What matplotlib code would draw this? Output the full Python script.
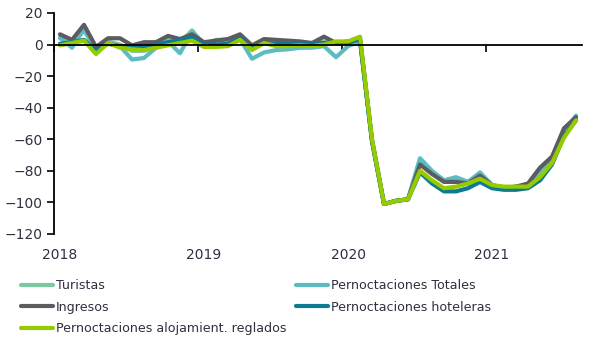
import numpy as np
import matplotlib.pyplot as plt
from matplotlib.lines import Line2D
import matplotlib.transforms as mtransforms

plt.rcParams['font.family'] = ['DejaVu Sans']

TXT = '#2e3040'

# monthly index, Jan 2018 .. Aug 2021
years = ['2018', '2019', '2020', '2021']

turistas = [4, 0, 9, -3, 2, 0, -4, -4, -1, 3, 1, 9,
            0, 3, 3, 6, -2, 2, 1, 0.5, 0.5, 0, 2, 1,
            1, 3, -61, -101, -99, -98, -73, -81, -86, -85, -87, -82,
            -89, -91, -90, -89, -80, -72, -56, -46]
totales = [4.5, -2, 10, -4, 1, -1, -9.5, -8.5, -2, 2, -5.5, 8,
           0, 0, 0, 3.5, -9, -5, -3.5, -3, -2, -2, -1, -8,
           -1, 2, -60, -101, -99, -98, -72, -80, -86, -84, -87, -81,
           -89, -91, -90, -89, -80, -73, -55, -45]
ingresos = [6.5, 3, 12.5, -1.5, 4, 4, -0.5, 1.5, 1.5, 5.5, 3.5, 6.5,
            1.5, 2.5, 3.5, 6.5, -0.5, 3.5, 3, 2.5, 2, 1, 5, 1,
            1, 4, -61, -101, -99, -98, -76, -82, -87, -87, -88, -83,
            -89, -91, -90, -88, -78, -71, -53, -46]
hoteleras = [0.5, 1.5, 3, -4, 0.5, -1, -1.5, -1.5, 0, 1.5, 3, 4.5,
             0, 0, 0.5, 4, -2.5, 1, 0.5, 0.5, 0.5, 0.5, 1, 1,
             2, 3, -61, -101, -99, -98, -81, -88, -93, -93, -91, -87,
             -91, -92, -92, -91, -86, -76, -58, -48]
reglados = [-0.5, 1, 2.5, -6, 1, -2, -3, -3.5, -2, -0.5, 1, 2.5,
            -1.5, -1.5, -1, 3, -3.5, 1, -1, -1, -0.5, -1, 0, 2,
            2, 5, -60, -101, -99, -98, -80, -86, -91, -90, -88, -85,
            -89, -90, -90, -90, -84, -75, -59, -48]

series = [
    ('Turistas', turistas, '#7cc8a0'),
    ('Pernoctaciones Totales', totales, '#5cbcc2'),
    ('Ingresos', ingresos, '#5b5b60'),
    ('Pernoctaciones hoteleras', hoteleras, '#0b7a92'),
    ('Pernoctaciones alojamient. reglados', reglados, '#98ca00'),
]

fig = plt.figure(figsize=(5.89, 3.39), dpi=100)
ax = fig.add_axes([54 / 589, 1 - 234 / 339, 528 / 589, 221 / 339])

x = np.arange(len(turistas))
for name, vals, col in series:
    ax.plot(x, vals, color=col, lw=3.0, solid_capstyle='round',
            solid_joinstyle='round', label=name)

ax.set_xlim(-0.5, len(turistas) - 0.5)
ax.set_ylim(-120, 20)
ax.set_yticks(np.arange(-120, 21, 20))
ax.tick_params(axis='y', length=5, width=1.2, color='black', labelsize=10,
               labelcolor=TXT, pad=3)

# x axis sits on the zero line
ax.spines['bottom'].set_position(('data', 0))
ax.spines['top'].set_visible(False)
ax.spines['right'].set_visible(False)
for s in ('left', 'bottom'):
    ax.spines[s].set_linewidth(1.3)
    ax.spines[s].set_color('black')
ax.set_xticks([-0.5, 11.5, 23.5, 35.5])
ax.set_xticklabels([])
ax.tick_params(axis='x', length=5, width=1.2, color='black')

trans = mtransforms.blended_transform_factory(ax.transData, ax.transAxes)
for i, yr in enumerate(years):
    ax.text(i * 12, -0.095, yr, transform=trans, ha='center', va='center',
            fontsize=10, color=TXT)

leg_kw = dict(frameon=False, fontsize=9.1, handlelength=2.5, handletextpad=0.25,
              borderpad=0, borderaxespad=0, labelspacing=0.68, labelcolor=TXT,
              loc='upper left')

def proxy(name):
    col = [c for n, v, c in series if n == name][0]
    return Line2D([], [], color=col, lw=3.0, solid_capstyle='round')

col1 = ['Turistas', 'Ingresos', 'Pernoctaciones alojamient. reglados']
col2 = ['Pernoctaciones Totales', 'Pernoctaciones hoteleras']
fig.legend([proxy(n) for n in col1], col1, bbox_to_anchor=(21 / 589, 1 - 279 / 339), **leg_kw)
fig.legend([proxy(n) for n in col2], col2, bbox_to_anchor=(296 / 589, 1 - 279 / 339), **leg_kw)

fig.savefig('out.png', dpi=100)
